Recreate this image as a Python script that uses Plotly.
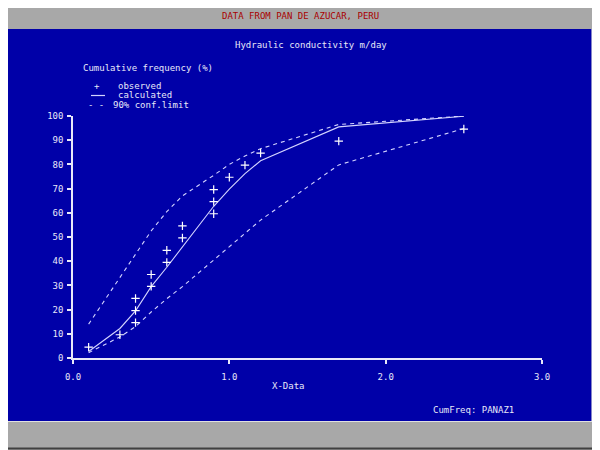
import plotly.graph_objects as go

# observed data points (cumulative frequency, %)
obs_x = [0.1, 0.3, 0.4, 0.4, 0.4, 0.5, 0.5, 0.6, 0.6, 0.7, 0.7,
         0.9, 0.9, 0.9, 1.0, 1.1, 1.2, 1.7, 2.5]
obs_y = [4.5, 9.6, 14.6, 19.6, 24.6, 29.6, 34.5, 39.5, 44.5, 49.6, 54.6,
         59.6, 64.6, 69.6, 74.7, 79.7, 84.7, 89.6, 94.6]

# calculated distribution and 90% confidence limits
fit_x = [0.1, 0.3, 0.4, 0.5, 0.6, 0.7, 0.9, 1.0, 1.1, 1.2, 1.7, 2.5]
calc_y = [2.7, 12.2, 19.5, 29.5, 37.5, 46.0, 62.7, 69.8, 76.2, 81.5, 95.5, 99.9]
upper_y = [14.0, 33.5, 43.0, 52.5, 60.5, 67.0, 75.5, 80.0, 83.5, 86.5, 96.5, 100.0]
lower_y = [2.2, 8.7, 13.0, 19.0, 24.5, 29.5, 40.5, 46.0, 51.5, 57.0, 79.8, 94.8]

x_ticks = [0, 1, 2, 3]
x_labels = ["0.0", "1.0", "2.0", "3.0"]
y_ticks = list(range(0, 101, 10))

BLUE = "#0000a8"
GRAY = "#a8a8a8"
FG = "#e8e8f8"
LINE = "#d4d4ff"
FONT = "DejaVu Sans Mono"

# page puts the figure 8px in from the window corner
OFF = 8
# plot area in window pixels: left 73, right 542, top 116, bottom 358
L, R, T, B = 73, 542, 116, 358


def px(x):
    return (x - L) / (R - L)


def py(y):
    return (B - y) / (B - T)


fig = go.Figure()

fig.add_trace(go.Scatter(x=fit_x, y=upper_y, mode="lines",
                         line=dict(color=LINE, width=1.1, dash="4px,4px")))
fig.add_trace(go.Scatter(x=fit_x, y=lower_y, mode="lines",
                         line=dict(color=LINE, width=1.1, dash="4px,4px")))
fig.add_trace(go.Scatter(x=fit_x, y=calc_y, mode="lines",
                         line=dict(color=LINE, width=1.1)))
fig.add_trace(go.Scatter(x=obs_x, y=obs_y, mode="markers",
                         marker=dict(symbol="cross-thin", size=6,
                                     line=dict(color="white", width=1.2)),
                         cliponaxis=False))


def label(text, x, y, anchor="center", color=FG):
    fig.add_annotation(text=text, x=px(x), y=py(y), xref="paper", yref="paper",
                       xanchor=anchor, yanchor="middle", showarrow=False,
                       font=dict(family=FONT, size=9, color=color))


label("DATA FROM PAN DE AZUCAR, PERU", 300, 16, color="#a80000")
label("Hydraulic conductivity m/day", 311, 45)
label("Cumulative frequency (%)", 81, 68, "left")
label("+", 97, 86)
label("observed", 116, 86, "left")
label("calculated", 116, 95, "left")
label("- -", 96, 104.5)
label("90% conf.limit", 111, 104.5, "left")
label("X-Data", 270, 386, "left")
label("CumFreq: PANAZ1", 431, 410, "left")


def seg(x0, y0, x1, y1, color, width, layer="below"):
    return dict(type="line", xref="paper", yref="paper",
                x0=px(x0), x1=px(x1), y0=py(y0), y1=py(y1),
                line=dict(color=color, width=width), layer=layer)


shapes = [
    # blue panel
    dict(type="rect", xref="paper", yref="paper",
         x0=px(8), x1=px(592), y0=py(421), y1=py(29),
         fillcolor=BLUE, line=dict(width=0), layer="below"),
    # panel bevel
    seg(592, 421.5, 592, 29, "#e0e0e0", 1.2),
    seg(8, 421.5, 592.5, 421.5, "#e0e0e0", 1.2),
    # window frame
    seg(598, 0, 598, 449, "#404040", 2),
    seg(0, 448.5, 599, 448.5, "#404040", 2),
    # legend line for calculated
    seg(91, 95.5, 105, 95.5, LINE, 1.2, "above"),
]

fig.update_layout(
    width=600, height=450,
    margin=dict(l=L - OFF, r=600 - R + OFF, t=T - OFF, b=450 - B + OFF),
    paper_bgcolor=GRAY, plot_bgcolor=BLUE,
    showlegend=False,
    shapes=shapes,
    font=dict(family=FONT, size=9, color=FG),
)
fig.update_xaxes(range=[0, 3], tickvals=x_ticks, ticktext=x_labels,
                 showgrid=False, zeroline=False, showline=True,
                 linecolor=FG, linewidth=1.5, ticks="outside", ticklen=4,
                 tickcolor=FG, tickwidth=1.5, ticklabelstandoff=5,
                 tickfont=dict(family=FONT, size=9, color=FG))
fig.update_yaxes(range=[0, 100], tickvals=y_ticks,
                 showgrid=False, zeroline=False, showline=True,
                 linecolor=FG, linewidth=1.5, ticks="outside", ticklen=4,
                 tickcolor=FG, tickwidth=1.5, ticklabelstandoff=2,
                 tickfont=dict(family=FONT, size=9, color=FG))

fig.write_html("out.html")
